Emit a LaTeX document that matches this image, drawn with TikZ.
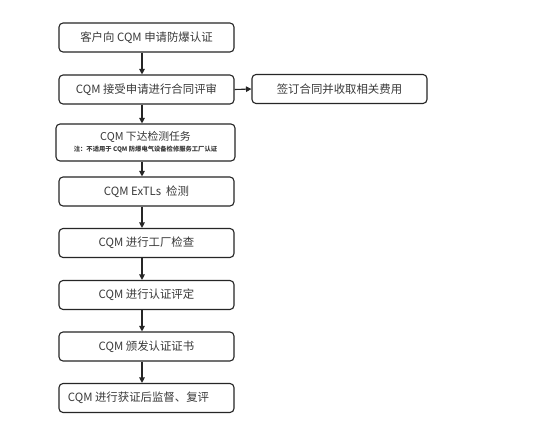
\documentclass[tikz,border=0pt]{standalone}
\usepackage{fontspec}
\setmainfont{Noto Sans CJK SC}
\usetikzlibrary{arrows.meta}
\definecolor{edge}{HTML}{262626}
\definecolor{txt}{HTML}{3A3A3A}
\tikzset{
  flowbox/.style={draw=edge, line width=1.1pt, rounded corners=4pt, rectangle,
    minimum height=29pt, inner sep=1pt, text=txt, font=\fontsize{11.4}{13}\selectfont},
  flowarrow/.style={draw=edge, line width=1.1pt, -{Triangle[length=5.5pt,width=5.5pt]}}
}
\begin{document}
\begin{tikzpicture}[x=1pt,y=-1pt]
\useasboundingbox[fill=white] (0,0) rectangle (558,426);
\node[flowbox, minimum width=175pt] (b1) at (146.5,37.5) {客户向 CQM 申请防爆认证};
\node[flowbox, minimum width=175pt] (b2) at (146.5,89.5) {CQM 接受申请进行合同评审};
\node[flowbox, minimum width=175pt] (r) at (339.5,89) {签订合同并收取相关费用};
\node[flowbox, minimum width=179pt, minimum height=37pt, align=center] (b3) at (145.5,142.5)
  {\fontsize{10.8}{12}\selectfont CQM 下达检测任务\\[-2pt]{\fontsize{6.3}{7}\selectfont\bfseries 注：不适用于 CQM 防爆电气设备检修服务工厂认证}};
\node[flowbox, minimum width=175pt] (b4) at (146.5,191.5) {CQM ExTLs\ \ 检测};
\node[flowbox, minimum width=175pt] (b5) at (146.5,243) {CQM 进行工厂检查};
\node[flowbox, minimum width=175pt] (b6) at (146.5,295) {CQM 进行认证评定};
\node[flowbox, minimum width=175pt] (b7) at (146.5,346.5) {CQM 颁发认证证书};
\node[flowbox, minimum width=175pt] (b8) at (146.5,398) {\hspace*{-16pt}CQM 进行获证后监督、复评};
\draw[flowarrow] ([xshift=-4.5pt]b1.south) -- ([xshift=-4.5pt]b2.north);
\draw[flowarrow] ([xshift=-4.5pt]b2.south) -- ([xshift=-3.5pt]b3.north);
\draw[flowarrow] ([xshift=-3.5pt]b3.south) -- ([xshift=-4.5pt]b4.north);
\draw[flowarrow] ([xshift=-4.5pt]b4.south) -- ([xshift=-4.5pt]b5.north);
\draw[flowarrow] ([xshift=-4.5pt]b5.south) -- ([xshift=-4.5pt]b6.north);
\draw[flowarrow] ([xshift=-4.5pt]b6.south) -- ([xshift=-4.5pt]b7.north);
\draw[flowarrow] ([xshift=-4.5pt]b7.south) -- ([xshift=-4.5pt]b8.north);
\draw[flowarrow] (b2.east) -- (r.west);
\end{tikzpicture}
\end{document}
